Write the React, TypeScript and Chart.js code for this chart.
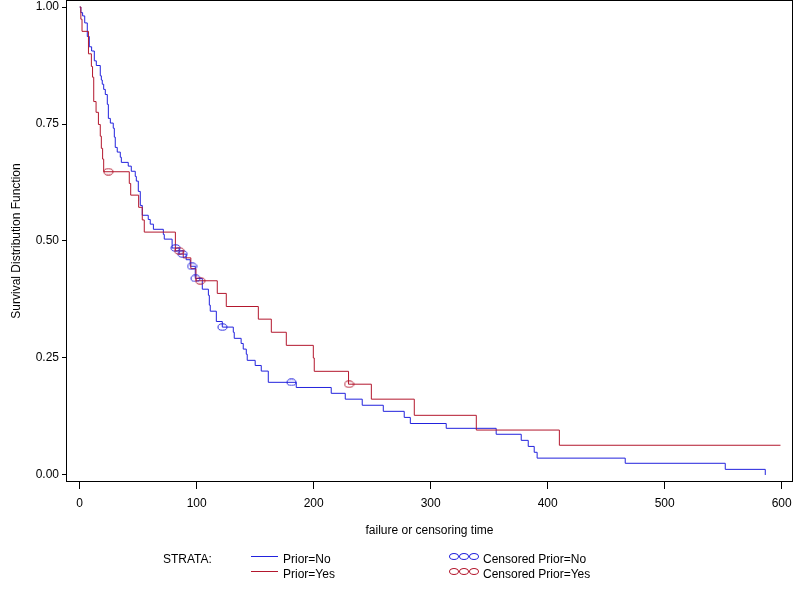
import { useEffect, useRef } from "react";
import { Chart, registerables } from "chart.js";

Chart.register(...registerables);

const BLUE = "#2222dd";
const RED = "#b3172d";
const FONT = '"Liberation Sans", Arial, sans-serif';

// Prior=No step curve (time, survival)
const NO_TIME = [
  0, 1, 2.5, 4.3, 6.5, 8.2, 10.2, 12.5, 14.2, 17.6, 18.5, 19.3, 20.5, 21.9, 23.6, 24.5,
  26.2, 28.7, 29.6, 30.4, 32.1, 34.7, 35.6, 41.5, 44.1, 47.5, 48.4, 50.1, 51.8, 53.5,
  58.6, 60.3, 63, 71.5, 72.3, 79, 85, 91, 94.5, 98.8, 104.8, 110, 110.8, 111.6, 116.8,
  121.9, 131.3, 132.1, 138, 139.8, 142.4, 143.2, 150, 155.2, 161.2, 185.1, 215, 227,
  241.5, 259.5, 277.4, 282.6, 313.3, 356, 377.4, 383.4, 388.5, 391, 466.3, 551.8, 586,
];
const NO_SURV = [
  1, 0.988, 0.981, 0.966, 0.937, 0.915, 0.906, 0.885, 0.875, 0.853, 0.844, 0.835, 0.824, 0.813, 0.792, 0.762,
  0.752, 0.741, 0.722, 0.7, 0.69, 0.679, 0.668, 0.66, 0.649, 0.638, 0.628, 0.606, 0.576, 0.555,
  0.546, 0.536, 0.525, 0.514, 0.504, 0.485, 0.472, 0.46, 0.446, 0.42, 0.397, 0.384, 0.363, 0.35, 0.328,
  0.316, 0.305, 0.292, 0.281, 0.269, 0.258, 0.245, 0.234, 0.222, 0.198, 0.187, 0.1745, 0.162,
  0.149, 0.136, 0.123, 0.11, 0.0997, 0.087, 0.074, 0.061, 0.0485, 0.036, 0.025, 0.012, 0,
];

// Prior=Yes step curve
const YES_TIME = [
  0, 1, 2, 7.5, 10, 11, 12, 14, 16, 17.6, 18.5, 19.6, 20.5, 42.4, 43.6, 50.4, 53.5, 55.2,
  81.8, 88.5, 95, 99.4, 117.6, 125.3, 152.7, 163.8, 176.6, 199.7, 200.5, 229.8, 249.3,
  286, 339, 410, 599,
];
const YES_SURV = [
  1, 0.974, 0.948, 0.9, 0.873, 0.85, 0.798, 0.775, 0.749, 0.724, 0.698, 0.675, 0.648, 0.623, 0.598, 0.572, 0.545, 0.519,
  0.479, 0.464, 0.441, 0.415, 0.388, 0.36, 0.333, 0.305, 0.277, 0.25, 0.2215, 0.194, 0.162,
  0.1275, 0.096, 0.0635, 0.0635,
];

// censored observations
const NO_CENS_TIME = [82, 88, 96, 99, 122, 181];
const NO_CENS_SURV = [0.485, 0.472, 0.446, 0.42, 0.316, 0.198];
const YES_CENS_TIME = [24.5, 85, 103, 230.2];
const YES_CENS_SURV = [0.648, 0.479, 0.415, 0.194];

const X_TICKS = [0, 100, 200, 300, 400, 500, 600];
const Y_TICKS = [0, 0.25, 0.5, 0.75, 1];

const pts = (xs: number[], ys: number[]) => xs.map((x, i) => ({ x, y: ys[i] }));

function ellipse(color: string) {
  const c = document.createElement("canvas");
  c.width = 11; c.height = 8;
  const g = c.getContext("2d")!;
  g.strokeStyle = color; g.lineWidth = 1;
  g.beginPath(); g.ellipse(5.5, 4, 4.5, 3.2, 0, 0, Math.PI * 2); g.stroke();
  return c;
}

const frame = {
  id: "frame",
  afterDraw(c: any) {
    const { ctx, chartArea: a } = c;
    ctx.save();
    ctx.strokeStyle = "#000"; ctx.lineWidth = 1;
    ctx.strokeRect(a.left + 0.5, a.top + 0.5, a.right - a.left - 1, a.bottom - a.top - 1);
    ctx.restore();
  },
};

export default function App() {
  const canvasRef = useRef<HTMLCanvasElement | null>(null);

  useEffect(() => {
    if (!canvasRef.current) return;
    const font = { family: FONT, size: 12 };
    const chart = new Chart(canvasRef.current, {
      type: "scatter",
      data: {
        datasets: [
          { label: "Censored Prior=Yes", data: pts(YES_CENS_TIME, YES_CENS_SURV), showLine: false, pointStyle: ellipse(RED) as any, pointRadius: 5 },
          { label: "Censored Prior=No", data: pts(NO_CENS_TIME, NO_CENS_SURV), showLine: false, pointStyle: ellipse(BLUE) as any, pointRadius: 5 },
          { label: "Prior=Yes", data: pts(YES_TIME, YES_SURV), showLine: true, stepped: true, borderColor: RED, borderWidth: 1, pointRadius: 0 },
          { label: "Prior=No", data: pts(NO_TIME, NO_SURV), showLine: true, stepped: true, borderColor: BLUE, borderWidth: 1, pointRadius: 0 },
        ],
      },
      options: {
        responsive: false,
        animation: false,
        layout: { autoPadding: false, padding: { left: 0, top: 0, right: 7, bottom: 60 } },
        plugins: { legend: { display: false }, tooltip: { enabled: false } },
        scales: {
          x: {
            type: "linear", min: -11.7, max: 609.7,
            afterBuildTicks: (s: any) => { s.ticks = X_TICKS.map(value => ({ value })); },
            afterFit: (s: any) => { s.height = 58; s.paddingLeft = 0; s.paddingRight = 0; },
            grid: { drawOnChartArea: false, color: "#000", tickLength: 7 },
            border: { display: false },
            ticks: { color: "#000", font, padding: 7, autoSkip: false, maxRotation: 0, callback: (v: any) => String(v) },
            title: { display: true, text: "failure or censoring time", color: "#000", font, padding: { top: 0, bottom: 2 } },
          },
          y: {
            type: "linear", min: -0.015, max: 1.015,
            afterBuildTicks: (s: any) => { s.ticks = Y_TICKS.map(value => ({ value })); },
            afterFit: (s: any) => { s.width = 66; s.paddingTop = 0; s.paddingBottom = 0; },
            grid: { drawOnChartArea: false, color: "#000", tickLength: 4 },
            border: { display: false },
            ticks: { color: "#000", font, padding: 3, autoSkip: false, callback: (v: any) => Number(v).toFixed(2) },
            title: { display: true, text: "Survival Distribution Function", color: "#000", font, padding: { top: 9, bottom: 0 } },
          },
        },
      },
      plugins: [frame],
    });
    return () => chart.destroy();
  }, []);

  const txt = (left: number, top: number, s: string) => (
    <div style={{ position: "absolute", left, top, fontSize: 12, lineHeight: "14px", whiteSpace: "nowrap" }}>{s}</div>
  );
  const line = (top: number, color: string) => (
    <div style={{ position: "absolute", left: 251, top, width: 27, height: 1, background: color }} />
  );
  const marks = (top: number, color: string) =>
    [0, 10, 20].map(dx => (
      <div key={dx} style={{ position: "absolute", left: 449 + dx, top, width: 10, height: 7, boxSizing: "border-box", border: `1px solid ${color}`, borderRadius: "50%" }} />
    ));

  return (
    <div style={{ position: "absolute", left: 0, top: 0, width: 800, height: 600, background: "#fff", fontFamily: FONT, color: "#000" }}>
      <canvas ref={canvasRef} width={800} height={600} />
      {txt(163, 552, "STRATA:")}
      {line(556, BLUE)}
      {txt(283, 552, "Prior=No")}
      {line(571, RED)}
      {txt(283, 567, "Prior=Yes")}
      {marks(553, BLUE)}
      {txt(483, 552, "Censored Prior=No")}
      {marks(568, RED)}
      {txt(483, 567, "Censored Prior=Yes")}
    </div>
  );
}
